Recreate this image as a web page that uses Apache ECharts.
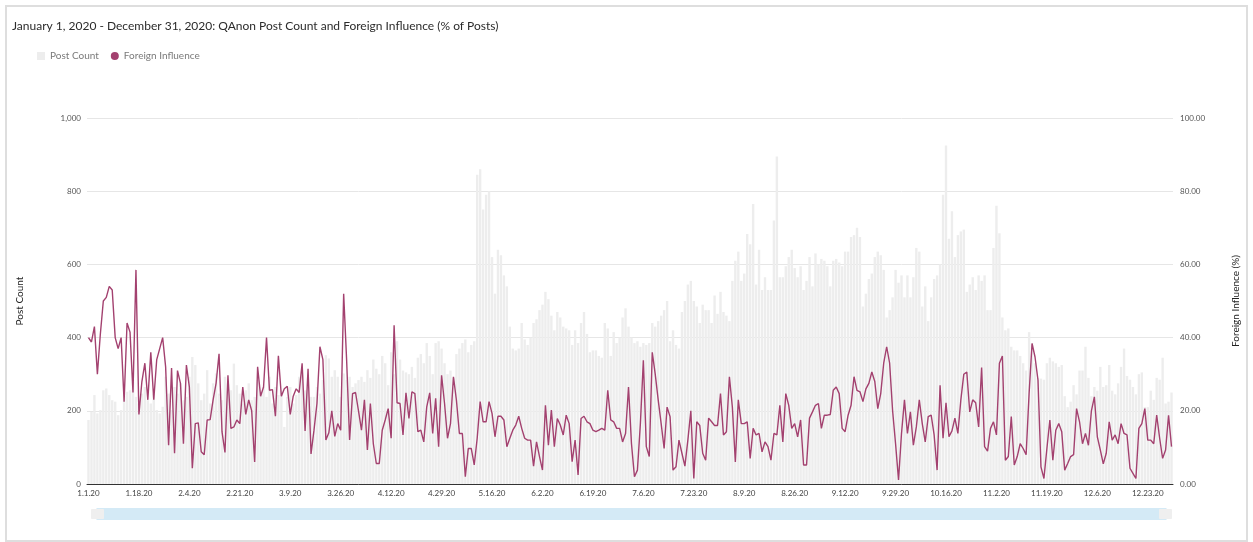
<!DOCTYPE html>
<html>
<head>
<meta charset="utf-8">
<title>QAnon Post Count and Foreign Influence</title>
<script src="https://cdn.jsdelivr.net/npm/echarts@6/dist/echarts.min.js"></script>
<style>
  html, body { margin: 0; padding: 0; background: #fff; }
  .com-frame {
    position: absolute; left: 5px; top: 5px; width: 1243px; height: 537px;
    box-sizing: border-box; border: 2px solid #dedede;
  }
  .com-chart { position: absolute; left: 0; top: 0; width: 1253px; height: 542px; }
</style>
</head>
<body>
<div class="com-frame"></div>
<div class="com-chart" id="chart_ref"></div>
<script>
// daily post counts, 1.1.20 - 12.31.20
const postCount = [
  175, 197, 243, 193, 202, 256, 261, 243, 229, 225,
  188, 202, 247, 252, 256, 279, 238, 220, 247, 265,
  229, 220, 247, 202, 193, 211, 293, 247, 202, 265,
  247, 275, 229, 238, 293, 347, 325, 275, 229, 247,
  311, 220, 275, 302, 247, 229, 293, 275, 256, 329,
  270, 247, 220, 256, 275, 229, 238, 284, 247, 265,
  238, 293, 220, 265, 243, 256, 156, 238, 265, 220,
  243, 293, 302, 256, 265, 238, 238, 265, 247, 284,
  352, 343, 293, 311, 293, 238, 302, 284, 293, 265,
  275, 284, 293, 279, 311,
  290, 340, 315, 300, 350, 330, 270, 360, 300, 390,
  340, 310, 305, 300, 320, 290, 345, 355, 330, 385,
  350, 300, 385, 390, 370, 330, 300, 310, 290, 355,
  370, 385, 395, 360, 380, 390, 845, 860, 750, 790,
  800, 620, 520, 640, 625, 570, 540, 430, 370, 365,
  370, 440, 395, 380, 400, 440, 450, 475, 490, 525,
  505, 460, 420, 470, 455, 430, 425, 420, 380, 420,
  385, 440, 470, 410, 360, 365, 365, 350, 345, 440,
  425, 350, 415, 385, 400, 455, 480, 430, 400, 385,
  390, 375, 385, 380,
  385, 440, 430, 445, 460, 475, 500, 390, 420, 380,
  370, 470, 500, 545, 555, 500, 485, 440, 490, 475,
  475, 440, 515, 465, 525, 470, 460, 445, 555, 610,
  635, 555, 575, 683, 655, 765, 545, 640, 530, 565,
  530, 530, 720, 895, 565, 565, 595, 620, 640, 590,
  565, 595, 530, 555, 620, 540, 630, 600, 615, 610,
  595, 540, 610, 615, 605, 595, 635, 635, 675, 680,
  700, 675, 485, 520, 560, 575, 620, 635, 625, 585,
  455, 475, 510, 585, 550, 570, 510, 570, 510, 565,
  645, 635, 485, 540, 445,
  510, 560, 570, 600, 790, 925, 670, 745, 620, 680,
  690, 695, 525, 545, 565, 530, 570, 555, 570, 475,
  475, 645, 760, 685, 455, 420, 425, 375, 365, 365,
  350, 330, 310, 415, 385, 330, 290, 288, 285, 330,
  345, 335, 330, 320, 325, 240, 210, 225, 270, 245,
  310, 310, 375, 290, 240, 265, 255, 320, 265, 270,
  325, 255, 245, 275, 320, 370, 295, 285, 265, 245,
  300, 305, 210, 210, 255, 230, 290, 285, 345, 220,
  225, 250
]

// foreign influence, % of posts
const foreignInfluence = [
  40, 38.8, 43, 30, 41, 50, 51, 54, 53, 40,
  37, 40, 22.5, 44, 41.5, 25, 58.5, 19, 28, 33,
  23, 36, 23, 34, 37, 40, 32, 10.6, 31.7, 8.4,
  31, 27.5, 11, 32.5, 26.5, 4.3, 16.5, 16.7, 8.8, 8,
  17.5, 17.6, 23, 27.5, 35.6, 14.3, 8.6, 29.7, 15.2, 15.6,
  17.5, 16.5, 26.5, 19, 23, 20, 6, 32, 24, 26.5,
  40, 25.6, 25.8, 18.5, 35, 24, 26, 26.7, 19, 24,
  26, 25, 33, 14.5, 31.5, 8.2, 14.7, 22, 37.5, 34,
  12, 14, 20, 13, 16.5, 14.7, 52, 33.8, 12, 24.7,
  25, 20, 14.7, 23, 9.3, 22,
  11, 5.6, 5.6, 14.7, 17.5, 20.6, 12.5, 43.4, 22.2, 22,
  13.4, 24.9, 17.9, 25.2, 24.7, 14.3, 14.7, 11.5, 21.1, 24.9,
  13.8, 23.4, 10.2, 29.7, 22, 12.5, 16.5, 29.3, 22.9, 13.8,
  13.8, 2, 9.7, 9.7, 5.2, 12.5, 22.5, 17, 17, 22.5,
  19.3, 12.9, 18.5, 18.5, 17.5, 10.2, 12.5, 14.7, 16.1, 18.5,
  15.2, 12.5, 12, 12, 4.9, 11.5, 7.5, 3.8, 21.5, 10.6,
  20.2, 10.2, 17.9, 16.1, 13.4, 18.8, 16.5, 6.1, 12, 2.5,
  17.9, 18.5, 17, 16.5, 14.7, 14.3, 14.7, 15.2, 14.7, 25.6,
  17.5, 17, 15.2, 15.2, 11.5, 13.8, 26.5, 11, 2, 3.8,
  16.5, 33.8, 10.2, 7.5,
  36, 30, 23, 16.5, 9.7, 21, 18.4, 3.8, 4.7, 12,
  8.4, 4.9, 12, 20, 1.5, 17, 16, 8.4, 6.5, 18,
  17, 16, 16, 24.7, 13.4, 14.3, 29.3, 21, 6, 23,
  16.5, 16.5, 17, 7, 15.2, 13.4, 13.8, 8.8, 11.5, 10.2,
  6.5, 13.8, 13.4, 21.5, 11.5, 24.7, 21.5, 15.2, 16.5, 12.9,
  17.5, 5.2, 5.2, 18, 19.7, 21.5, 22, 15.2, 18.8, 18.8,
  19, 25.6, 26.5, 24.7, 15.2, 14.3, 18.8, 21.5, 29.3, 25.6,
  25.2, 22.5, 26, 27.5, 30.6, 28, 20.6, 24.7, 33, 37.5,
  33, 20, 11, 1.1, 13.8, 23, 13.8, 19.7, 10.6, 15.6,
  23, 16.5, 11.5, 18.4,
  18.8, 13.4, 3.8, 27, 12.5, 22.2, 12.9, 14.5, 18, 13.8,
  23, 30, 30.6, 19.7, 23, 22.2, 15.6, 31.8, 10.2, 9,
  15.2, 17, 13.4, 33, 35, 6.5, 7.5, 18.4, 5.2, 7.5,
  11, 9.7, 8, 24.7, 38.4, 34.7, 28.4, 4.7, 1.5, 9.7,
  17.5, 6.5, 14.7, 16.5, 14.3, 3.8, 5.6, 7.5, 8, 20.6,
  17, 11, 13.8, 10.6, 20, 23.8, 12.9, 9.3, 5.5, 8.4,
  17, 12, 13.4, 11, 16.5, 13.8, 13.4, 4.3, 2.9, 1.5,
  15.2, 16.5, 20.6, 12, 12, 11, 18.8, 12.5, 7, 9.3,
  18.8, 10.2
]

// day labels like 1.18.20 (2020 is a leap year)
const monthDays = [31, 29, 31, 30, 31, 30, 31, 31, 30, 31, 30, 31]
const dayLabels = []
monthDays.forEach((n, m) => {
  for (let d = 1; d <= n; d++) {
    dayLabels.push((m + 1) + '.' + d + '.20')
  }
})

const fontFamily = 'Lato, "Noto Sans", sans-serif'
const lineColor = '#a3416f'
const barColor = '#ededed'

function initChart () {
  const chartInstance = echarts.init(document.getElementById('chart_ref'), null, { renderer: 'canvas' })
  const option = {
    animation: false,
    textStyle: { fontFamily: fontFamily },
    title: {
      text: 'January 1, 2020 - December 31, 2020: QAnon Post Count and Foreign Influence (% of Posts)',
      left: 7,
      top: 15,
      textStyle: { fontSize: 12, fontWeight: 'normal', color: '#2b2b2b', fontFamily: fontFamily }
    },
    legend: {
      left: 32,
      top: 46,
      itemWidth: 8,
      itemHeight: 8,
      itemGap: 12,
      textStyle: { fontSize: 10, color: '#7a7a7a' },
      data: [
        { name: 'Post Count', icon: 'rect' },
        { name: 'Foreign Influence', icon: 'circle' }
      ]
    },
    grid: { left: 87, right: 80, top: 118, bottom: 58 },
    xAxis: {
      type: 'category',
      data: dayLabels,
      boundaryGap: true,
      axisLine: { lineStyle: { color: '#333', width: 1 } },
      axisTick: { interval: 16, alignWithLabel: true, length: 4, lineStyle: { color: '#333' } },
      axisLabel: { interval: 16, fontSize: 8, color: '#444', margin: 5 }
    },
    yAxis: [
      {
        type: 'value',
        min: 0,
        max: 1000,
        interval: 200,
        name: 'Post Count',
        nameLocation: 'middle',
        nameGap: 62,
        nameTextStyle: { fontSize: 10, color: '#222' },
        axisLine: { show: false },
        axisTick: { show: false },
        axisLabel: { fontSize: 8, color: '#555', margin: 6 },
        splitLine: { lineStyle: { color: '#e6e6e6' } }
      },
      {
        type: 'value',
        min: 0,
        max: 100,
        interval: 20,
        name: 'Foreign Influence (%)',
        nameLocation: 'middle',
        nameGap: 58,
        nameRotate: 90,
        nameTextStyle: { fontSize: 10, color: '#222' },
        axisLine: { show: false },
        axisTick: { show: false },
        axisLabel: { fontSize: 8, color: '#555', margin: 7, formatter: v => v.toFixed(2) },
        splitLine: { show: false }
      }
    ],
    dataZoom: [
      {
        type: 'slider',
        xAxisIndex: 0,
        start: 0,
        end: 100,
        left: 95,
        right: 88,
        top: 508,
        height: 12,
        showDetail: false,
        showDataShadow: false,
        brushSelect: false,
        moveHandleSize: 0,
        backgroundColor: 'transparent',
        borderColor: 'transparent',
        fillerColor: '#d4eaf6',
        handleIcon: 'path://M0,0H16V12H0Z',
        handleSize: '100%',
        handleStyle: { color: '#efefef', borderColor: '#efefef' },
        emphasis: { handleStyle: { color: '#efefef', borderColor: '#efefef' } }
      }
    ],
    series: [
      {
        name: 'Post Count',
        type: 'bar',
        data: postCount,
        barCategoryGap: '20%',
        itemStyle: { color: barColor }
      },
      {
        name: 'Foreign Influence',
        type: 'line',
        yAxisIndex: 1,
        data: foreignInfluence,
        showSymbol: false,
        symbol: 'circle',
        itemStyle: { color: lineColor },
        lineStyle: { color: lineColor, width: 1.4 }
      }
    ]
  }
  chartInstance.setOption(option)
}

initChart()
</script>
</body>
</html>
